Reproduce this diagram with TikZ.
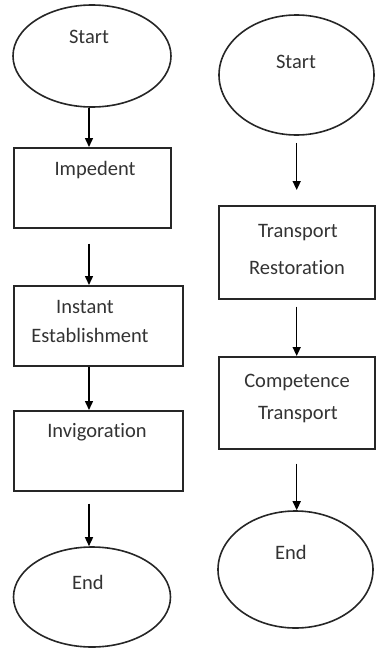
\documentclass[tikz,border=0pt]{standalone}
\usepackage{fontspec}
\setmainfont{Carlito}[Ligatures={NoCommon,NoContextual}]
\usetikzlibrary{shapes.geometric,arrows.meta}
\begin{document}
\begin{tikzpicture}[x=1pt,y=-1pt,
  shape line/.style={draw=black!85, line width=1.6pt},
  term/.style={shape line, ellipse, inner sep=0pt},
  stepbox/.style={shape line, rectangle, inner sep=0pt, anchor=north west},
  lbl/.style={font=\fontsize{20.5}{24}\selectfont, text=black!80, inner sep=0pt},
  arr/.style={draw=black, line width=1.5pt, -{Triangle[length=9pt,width=8pt]}}]
\useasboundingbox (0,0) rectangle (375,648);

% column axes for the connectors
\coordinate (lx) at (89,0);
\coordinate (rx) at (296.7,0);

% left flow
\node[term, minimum width=158pt, minimum height=102pt] (ls) at (92,56) {};
\node[lbl] (lst) at (89,37) {Start};
\node[stepbox, minimum width=157pt, minimum height=80pt] (lb1) at (13,147) {};
\node[lbl] (lb1t) at (95,170) {Impedent};
\node[stepbox, minimum width=169pt, minimum height=80pt] (lb2) at (13,285) {};
\node[lbl] (lb2a) at (85,307) {Instant};
\node[lbl] (lb2b) at (90,335) {Establishment};
\node[stepbox, minimum width=169pt, minimum height=80pt] (lb3) at (13,410) {};
\node[lbl] (lb3t) at (97,432) {Invigoration};
\node[term, minimum width=157pt, minimum height=100pt] (le) at (92,597) {};
\node[lbl] (let) at (88,582) {End};

\draw[arr] (ls.south -| lx) -- (lb1.north -| lx);
\draw[arr, shorten <=15pt] (lb1.south -| lx) -- (lb2.north -| lx);
\draw[arr] (lb2.south -| lx) -- (lb3.north -| lx);
\draw[arr, shorten <=12pt] (lb3.south -| lx) -- (le.north -| lx);

% right flow
\node[term, minimum width=155pt, minimum height=120pt] (rs) at (296.5,75) {};
\node[lbl] (rst) at (296,62) {Start};
\node[stepbox, minimum width=156pt, minimum height=93pt] (rb1) at (218,205) {};
\node[lbl] (rb1a) at (298,233) {Transport};
\node[lbl] (rb1b) at (297,268) {Restoration};
\node[stepbox, minimum width=156pt, minimum height=92pt] (rb2) at (218,356) {};
\node[lbl] (rb2a) at (297,382) {Competence};
\node[lbl] (rb2b) at (298,415) {Transport};
\node[term, minimum width=155pt, minimum height=117pt] (re) at (295.5,569.5) {};
\node[lbl] (ret) at (291,552) {End};

\draw[arr, shorten <=7pt, shorten >=15pt] (rs.south -| rx) -- (rb1.north -| rx);
\draw[arr, shorten <=7pt] (rb1.south -| rx) -- (rb2.north -| rx);
\draw[arr, shorten <=14pt] (rb2.south -| rx) -- (re.north -| rx);
\end{tikzpicture}
\end{document}
